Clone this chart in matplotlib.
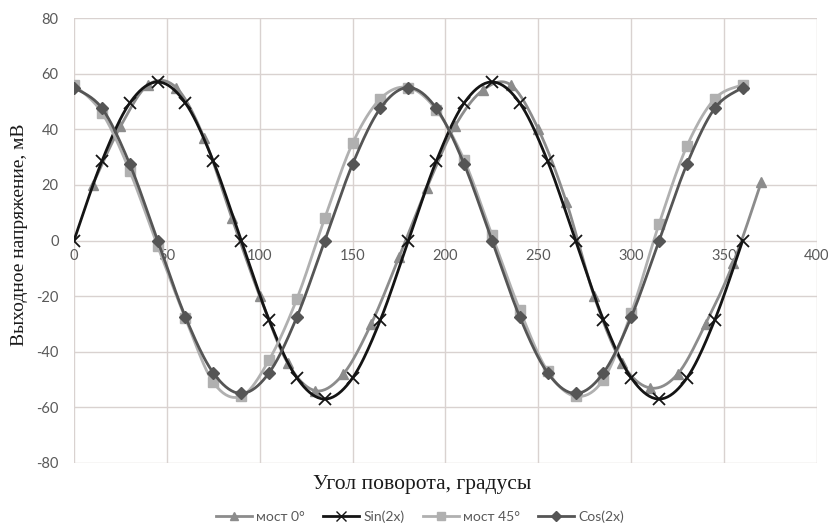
import numpy as np
import matplotlib
matplotlib.use("Agg")
import matplotlib.pyplot as plt
from matplotlib.lines import Line2D

plt.rcParams["axes.unicode_minus"] = False

# ---- data ----
x_most0 = [10, 25, 40, 55, 70, 85, 100, 115, 130, 145, 160, 175, 190, 205,
           220, 235, 250, 265, 280, 295, 310, 325, 340, 355, 370]
y_most0 = [20, 41, 56, 55, 37, 8, -20, -44, -54, -48, -30, -6, 19, 41,
           54, 56, 40, 14, -20, -44, -53, -48, -30, -8, 21]

x_step = [0, 15, 30, 45, 60, 75, 90, 105, 120, 135, 150, 165, 180, 195,
          210, 225, 240, 255, 270, 285, 300, 315, 330, 345, 360]
y_sin = [0, 28.5, 49.4, 57, 49.4, 28.5, 0, -28.5, -49.4, -57, -49.4, -28.5, 0,
         28.5, 49.4, 57, 49.4, 28.5, 0, -28.5, -49.4, -57, -49.4, -28.5, 0]
y_most45 = [56, 46, 25, -2, -28, -51, -56, -43, -21, 8, 35, 51, 55, 47,
            29, 2, -25, -47, -56, -50, -26, 6, 34, 51, 56]
y_cos = [55, 47.6, 27.5, 0, -27.5, -47.6, -55, -47.6, -27.5, 0, 27.5, 47.6, 55,
         47.6, 27.5, 0, -27.5, -47.6, -55, -47.6, -27.5, 0, 27.5, 47.6, 55]

x_ticks = [0, 50, 100, 150, 200, 250, 300, 350, 400]
y_ticks = [-80, -60, -40, -20, 0, 20, 40, 60, 80]

labels = ["мост 0°", "Sin(2x)", "мост 45°", "Cos(2x)"]
colors = ["#8c8c8c", "#141414", "#b0b0b0", "#555555"]


def smooth(xs, ys, n=20):
    """Catmull-Rom spline through the points (like Excel smoothed lines)."""
    xs = np.asarray(xs, float)
    ys = np.asarray(ys, float)
    P = np.column_stack([xs, ys])
    P = np.vstack([P[0], P, P[-1]])
    out = []
    t = np.linspace(0, 1, n, endpoint=False)[:, None]
    for i in range(1, len(P) - 2):
        p0, p1, p2, p3 = P[i - 1], P[i], P[i + 1], P[i + 2]
        seg = 0.5 * ((2 * p1) + (-p0 + p2) * t +
                     (2 * p0 - 5 * p1 + 4 * p2 - p3) * t ** 2 +
                     (-p0 + 3 * p1 - 3 * p2 + p3) * t ** 3)
        out.append(seg)
    out.append(P[-2][None, :])
    out = np.vstack(out)
    return out[:, 0], out[:, 1]


fig = plt.figure(figsize=(8.29, 5.25), dpi=100)
ax = fig.add_axes([74 / 829, 1 - 463 / 525, (817 - 74) / 829, (463 - 18) / 525])

series = [
    (x_most0, y_most0, "^", 7),
    (x_step, y_sin, "x", 8),
    (x_step, y_most45, "s", 7),
    (x_step, y_cos, "D", 6),
]
order = [0, 2, 3, 1]
for i in order:
    xs, ys, m, ms = series[i]
    sx, sy = smooth(xs, ys)
    ax.plot(sx, sy, color=colors[i], lw=2.0, zorder=2 + i)
    ax.plot(xs, ys, linestyle="none", marker=m, ms=ms, color=colors[i],
            mec=colors[i], mew=1.3 if m == "x" else 1, zorder=2 + i)

ax.set_xlim(0, 400)
ax.set_ylim(-80, 80)
ax.set_xticks(x_ticks)
ax.set_yticks(y_ticks)
ax.grid(True, color="#d9d2d0", lw=1.0)
ax.set_axisbelow(True)
for s in ax.spines.values():
    s.set_visible(False)
ax.tick_params(length=0, labelsize=10.5, colors="#595959")
ax.tick_params(axis="y", pad=11)
# x tick labels sit on the zero line
ax.set_xticklabels([])
for xv in x_ticks:
    ax.text(xv, -3.2, str(xv), ha="center", va="top", fontsize=10.5,
            color="#595959", family="Lato", zorder=1)
for lab in ax.get_yticklabels():
    lab.set_family("Lato")

fig.text(422 / 829, 1 - 484 / 525, "Угол поворота, градусы", ha="center",
         va="center", fontsize=15.5, family="Liberation Serif", color="#1a1a1a")
fig.text(20 / 829, 1 - 235 / 525, "Выходное напряжение, мВ", ha="center",
         va="center", rotation=90, fontsize=14, family="Liberation Serif",
         color="#1a1a1a")

handles = []
for i in range(4):
    xs, ys, m, ms = series[i]
    handles.append(Line2D([0], [0], color=colors[i], lw=2, marker=m, ms=ms - 1,
                          mec=colors[i]))
leg = fig.legend(handles, labels, loc="center", bbox_to_anchor=(420 / 829, 1 - 517 / 525),
                 ncol=4, frameon=False, handlelength=2.6,
                 columnspacing=1.3, handletextpad=0.3,
                 prop={"family": "Lato", "size": 10})
for t in leg.get_texts():
    t.set_color("#595959")

fig.savefig("out.png", dpi=100)
